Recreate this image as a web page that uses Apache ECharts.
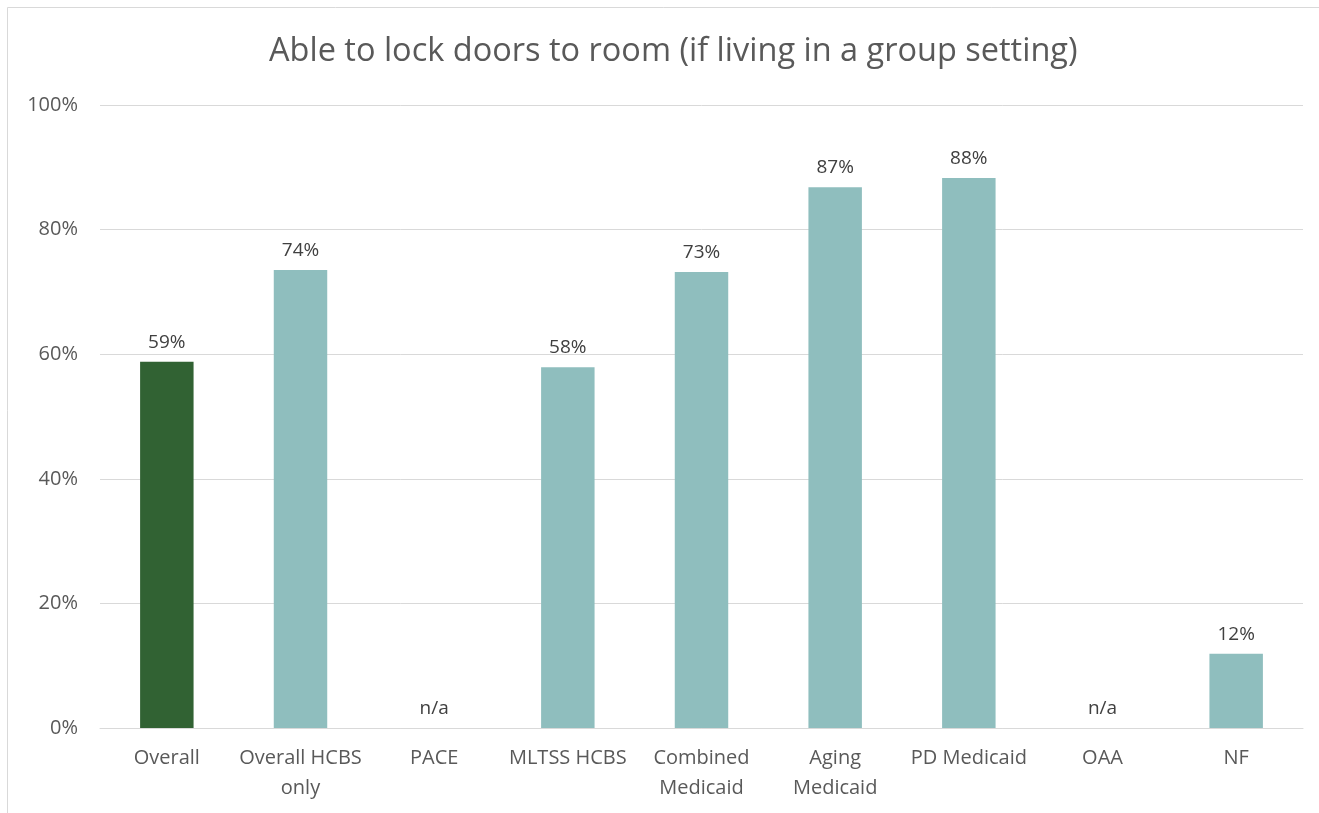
<!DOCTYPE html>
<html>
<head>
<meta charset="utf-8">
<script src="https://cdn.jsdelivr.net/npm/echarts@6/dist/echarts.min.js"></script>
<style>
  html, body { margin: 0; padding: 0; background: #fff; }
  #main { width: 1319px; height: 813px; }
</style>
</head>
<body>
<div id="main"></div>
<script>
var categories = ['Overall', 'Overall HCBS\nonly', 'PACE', 'MLTSS HCBS', 'Combined\nMedicaid',
    'Aging\nMedicaid', 'PD Medicaid', 'OAA', 'NF'];
// percent values; 0 where the label says n/a
var values = [58.8, 73.5, 0, 57.9, 73.2, 86.8, 88.3, 0, 11.9];
var valueLabels = ['59%', '74%', 'n/a', '58%', '73%', '87%', '88%', 'n/a', '12%'];
var yTicks = [0, 20, 40, 60, 80, 100];

var font = '"Open Sans", "Noto Sans", sans-serif';

var myChart = echarts.init(document.getElementById('main'));

var barData = values.map(function (v, i) {
    return {
        value: v,
        itemStyle: { color: i === 0 ? '#316233' : '#8FBEBE' }
    };
});

var option = {
    animation: false,
    backgroundColor: '#fff',
    title: {
        text: 'Able to lock doors to room (if living in a group setting)',
        left: 264,
        top: 30,
        textStyle: { fontFamily: font, fontSize: 32.5, fontWeight: 'normal', color: '#595959' }
    },
    graphic: [{
        type: 'rect',
        shape: { x: 7.5, y: 7.5, width: 1330, height: 830 },
        style: { fill: null, stroke: '#d9d9d9', lineWidth: 1 },
        silent: true
    }],
    grid: { left: 100, right: 16, top: 105, bottom: 85 },
    xAxis: {
        type: 'category',
        data: categories,
        axisTick: { show: false },
        axisLine: { lineStyle: { color: '#d9d9d9', width: 1 } },
        axisLabel: {
            interval: 0,
            margin: 15,
            fontFamily: font,
            fontSize: 20,
            lineHeight: 30,
            color: '#595959'
        }
    },
    yAxis: {
        type: 'value',
        min: yTicks[0],
        max: yTicks[yTicks.length - 1],
        interval: 20,
        axisLine: { show: false },
        axisTick: { show: false },
        splitLine: { lineStyle: { color: '#d9d9d9', width: 1 } },
        axisLabel: {
            margin: 22,
            fontFamily: font,
            fontSize: 20,
            color: '#595959',
            formatter: '{value}%'
        }
    },
    series: [{
        type: 'bar',
        data: barData,
        barWidth: '40%',
        label: {
            show: true,
            position: 'top',
            distance: 10,
            fontFamily: font,
            fontSize: 19,
            color: '#404040',
            formatter: function (p) { return valueLabels[p.dataIndex]; }
        }
    }]
};

myChart.setOption(option);
</script>
</body>
</html>
